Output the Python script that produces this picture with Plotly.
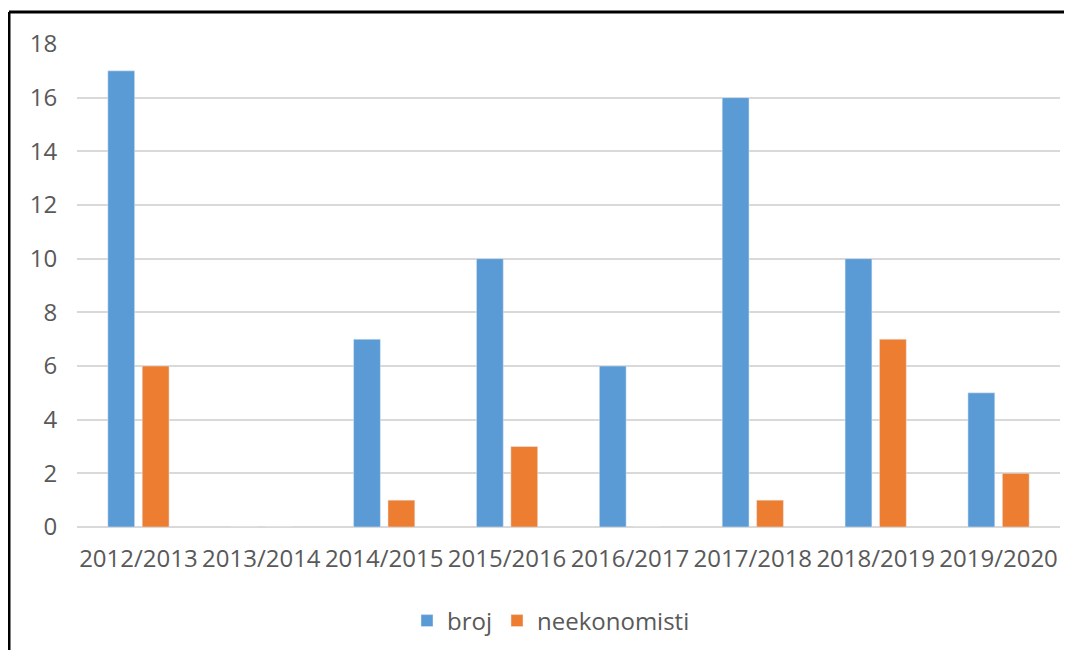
import plotly.graph_objects as go

categories = ["2012/2013", "2013/2014", "2014/2015", "2015/2016", "2016/2017",
              "2017/2018", "2018/2019", "2019/2020"]
broj = [17, 0, 7, 10, 6, 16, 10, 5]
neekonomisti = [6, 0, 1, 3, 0, 1, 7, 2]
y_ticks = [0, 2, 4, 6, 8, 10, 12, 14, 16, 18]

# page body has an 8px margin; work in reference pixel coords and shift
O = 8
W, H = 1072 - O, 650 - O
L, T = 77 - O, 44 - O
R = W - (1060 - O)
B = H - (527 - O)
pw, ph = W - L - R, H - T - B

def px(x):
    return (x - O - L) / pw

def py(y):
    return (H - B - (y - O)) / ph

fig = go.Figure()
fig.add_trace(go.Bar(x=categories, y=broj, name="broj", marker_color="#5B9BD5"))
fig.add_trace(go.Bar(x=categories, y=neekonomisti, name="neekonomisti", marker_color="#ED7D31"))

font = dict(family="Open Sans", size=24, color="#595959")
fig.update_layout(
    width=W, height=H,
    margin=dict(l=L, r=R, t=T, b=B, autoexpand=False),
    paper_bgcolor="white", plot_bgcolor="white",
    barmode="group", bargap=0.44, bargroupgap=0.22,
    font=font,
    xaxis=dict(tickfont=font, showgrid=False, showline=False, ticks="outside",
               ticklen=10, tickcolor="rgba(0,0,0,0)", tickangle=0),
    yaxis=dict(range=[0, 18], tickvals=y_ticks, tickfont=font, showgrid=True,
               gridcolor="#D9D9D9", gridwidth=2, zeroline=True, zerolinecolor="#D9D9D9",
               zerolinewidth=2, showline=False, ticks="outside", ticklen=14,
               tickcolor="rgba(0,0,0,0)"),
    legend=dict(orientation="h", x=px(551), xanchor="center", y=py(621), yanchor="middle",
                font=font, itemwidth=30),
    showlegend=True,
)
fig.add_shape(type="line", xref="paper", yref="paper", x0=px(9), x1=px(1080),
              y0=py(12), y1=py(12), line=dict(color="black", width=3))
fig.add_shape(type="line", xref="paper", yref="paper", x0=px(9), x1=px(9),
              y0=py(12), y1=py(660), line=dict(color="black", width=3))
fig.write_html("out.html")
